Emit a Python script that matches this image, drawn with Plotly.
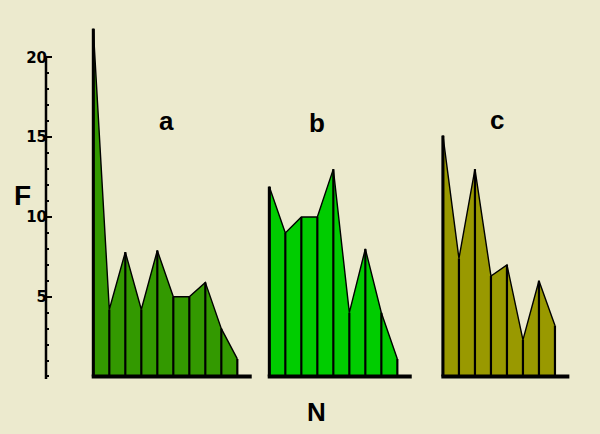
import plotly.graph_objects as go

# ---- data ----
group_labels = ["a", "b", "c"]
values_a = [21.8, 4.2, 7.8, 4.2, 7.9, 5.0, 5.0, 5.9, 3.0, 1.1]
values_b = [11.9, 9.0, 10.0, 10.0, 13.0, 4.0, 8.0, 4.0, 1.1]
values_c = [15.1, 7.4, 13.0, 6.3, 7.0, 2.3, 6.0, 3.2]
major_ticks = [5, 10, 15, 20]
minor_ticks = list(range(0, 21))
y_title = "F"
x_title = "N"

# ---- style / layout ----
series = [values_a, values_b, values_c]
starts = [0.0, 11.0, 21.85]
fills = ["#339900", "#00CC00", "#999900"]
label_pos = [(4.6, 16.0), (14.0, 15.9), (25.2, 16.1)]
bg = "#ECEACE"
FONT = "Liberation Sans"

W, H = 600, 434
ml, mr, mt, mb = 46, 10, 20, 54
pw, ph = W - ml - mr, H - mt - mb

fig = go.Figure()
for vals, x0, col in zip(series, starts, fills):
    xs = [x0 + i for i in range(len(vals))]
    fig.add_trace(go.Scatter(x=xs, y=vals, mode="lines", fill="tozeroy",
                             fillcolor=col, line=dict(color="black", width=1.4),
                             hoverinfo="skip", showlegend=False))
    vx, vy = [], []
    for x, v in zip(xs, vals):
        vx += [x, x, None]
        vy += [0, v, None]
    fig.add_trace(go.Scatter(x=vx, y=vy, mode="lines",
                             line=dict(color="black", width=2.2),
                             hoverinfo="skip", showlegend=False))
    fig.add_trace(go.Scatter(x=[xs[0], xs[0]], y=[0, vals[0]], mode="lines",
                             line=dict(color="black", width=3),
                             hoverinfo="skip", showlegend=False))
    fig.add_trace(go.Scatter(x=[xs[0] - 0.1, xs[-1] + 0.9], y=[0, 0], mode="lines",
                             line=dict(color="black", width=4),
                             hoverinfo="skip", showlegend=False))

for lab, (lx, ly) in zip(group_labels, label_pos):
    fig.add_annotation(x=lx, y=ly, xref="x", yref="y", text=lab, showarrow=False,
                       xanchor="center", yanchor="middle",
                       font=dict(family=FONT, size=26, color="black", weight="bold"))

def px_to_paper(px, py):
    return (px - ml) / pw, (H - py - mb) / ph

fx, fy = px_to_paper(22.7, 195)
fig.add_annotation(x=fx, y=fy, xref="paper", yref="paper", text=y_title,
                   showarrow=False, xanchor="center", yanchor="middle",
                   font=dict(family=FONT, size=28, color="black", weight="bold"))
nx, ny = px_to_paper(316.7, 411.7)
fig.add_annotation(x=nx, y=ny, xref="paper", yref="paper", text=x_title,
                   showarrow=False, xanchor="center", yanchor="middle",
                   font=dict(family=FONT, size=26, color="black", weight="bold"))

fig.add_shape(type="line", xref="paper", yref="y", x0=0, x1=0, y0=-0.15, y1=20,
              line=dict(color="black", width=2.5))

fig.update_layout(
    width=W, height=H,
    margin=dict(l=ml, r=mr, t=mt, b=mb),
    paper_bgcolor=bg, plot_bgcolor=bg,
    xaxis=dict(range=[-2.956, 31.04], visible=False, showgrid=False, zeroline=False),
    yaxis=dict(range=[-0.22, 22.35], showgrid=False, zeroline=False, showline=False,
               tickmode="array", tickvals=major_ticks,
               ticktext=["<b>%d</b>" % t for t in major_ticks],
               ticks="inside", ticklen=6, tickwidth=2, tickcolor="black",
               ticklabelstandoff=-2,
               tickfont=dict(family="DejaVu Sans", size=15, color="black", weight="bold"),
               minor=dict(tickmode="array", tickvals=minor_ticks, ticks="inside",
                          ticklen=3, tickwidth=1.5, tickcolor="black", showgrid=False)),
)
fig.write_html("out.html")
